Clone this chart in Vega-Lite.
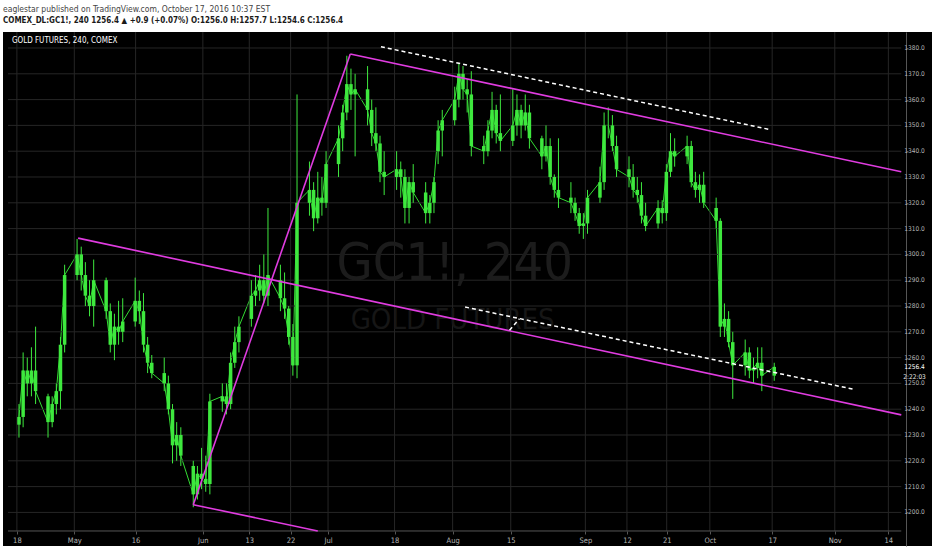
{
  "$schema": "https://vega.github.io/schema/vega-lite/v6.json",
  "width": 929,
  "height": 514,
  "autosize": {"type": "none"},
  "padding": {"left": 3, "top": 32, "right": 0, "bottom": 4},
  "background": "#ffffff",
  "title": {
    "text": "eaglestar published on TradingView.com, October 17, 2016 10:37 EST",
    "subtitle": "COMEX_DL:GC1!, 240  1256.4 ▲ +0.9 (+0.07%)  O:1256.0  H:1257.7  L:1254.6  C:1256.4",
    "anchor": "start",
    "frame": "group",
    "font": "DejaVu Sans Condensed",
    "fontSize": 8.5,
    "fontWeight": "normal",
    "color": "#444444",
    "subtitleFont": "DejaVu Sans Condensed",
    "subtitleFontSize": 8,
    "subtitleFontWeight": "bold",
    "subtitleColor": "#1a1a1a",
    "subtitlePadding": 3,
    "offset": 7
  },
  "config": {
    "view": {"fill": "#000000", "stroke": null},
    "axis": {"title": null, "labelOverlap": false}
  },
  "datasets": {
    "one": [{}],
    "ohlc": [
      {"t": "2016-04-18T12:00", "o": 1234, "h": 1242, "l": 1229, "c": 1237},
      {"t": "2016-04-19T12:00", "o": 1237, "h": 1262, "l": 1233, "c": 1255},
      {"t": "2016-04-20T12:00", "o": 1255, "h": 1260, "l": 1245, "c": 1250},
      {"t": "2016-04-21T12:00", "o": 1250, "h": 1264, "l": 1245, "c": 1255},
      {"t": "2016-04-22T12:00", "o": 1255, "h": 1272, "l": 1242, "c": 1247},
      {"t": "2016-04-25T12:00", "o": 1245, "h": 1246, "l": 1229, "c": 1235},
      {"t": "2016-04-26T12:00", "o": 1235, "h": 1245, "l": 1233, "c": 1242},
      {"t": "2016-04-27T12:00", "o": 1242, "h": 1250, "l": 1238, "c": 1247},
      {"t": "2016-04-28T12:00", "o": 1247, "h": 1268, "l": 1240, "c": 1265},
      {"t": "2016-04-29T12:00", "o": 1265, "h": 1296, "l": 1262, "c": 1292},
      {"t": "2016-05-02T12:00", "o": 1292, "h": 1306, "l": 1290, "c": 1300},
      {"t": "2016-05-03T12:00", "o": 1300, "h": 1303, "l": 1286, "c": 1292},
      {"t": "2016-05-04T12:00", "o": 1292, "h": 1297, "l": 1280, "c": 1284},
      {"t": "2016-05-05T12:00", "o": 1284, "h": 1290, "l": 1276, "c": 1280},
      {"t": "2016-05-06T12:00", "o": 1280, "h": 1298, "l": 1272, "c": 1290},
      {"t": "2016-05-09T12:00", "o": 1290, "h": 1291, "l": 1275, "c": 1278},
      {"t": "2016-05-10T12:00", "o": 1278, "h": 1281, "l": 1262, "c": 1265},
      {"t": "2016-05-11T12:00", "o": 1265, "h": 1277, "l": 1259, "c": 1272},
      {"t": "2016-05-12T12:00", "o": 1272, "h": 1282, "l": 1265, "c": 1270},
      {"t": "2016-05-13T12:00", "o": 1270, "h": 1283, "l": 1266, "c": 1274},
      {"t": "2016-05-16T12:00", "o": 1274, "h": 1291, "l": 1272, "c": 1282},
      {"t": "2016-05-17T12:00", "o": 1282, "h": 1286, "l": 1273, "c": 1278},
      {"t": "2016-05-18T12:00", "o": 1278, "h": 1285, "l": 1262, "c": 1265},
      {"t": "2016-05-19T12:00", "o": 1265, "h": 1268, "l": 1254, "c": 1258},
      {"t": "2016-05-20T12:00", "o": 1258, "h": 1261, "l": 1252, "c": 1254},
      {"t": "2016-05-23T12:00", "o": 1254, "h": 1260, "l": 1247, "c": 1250},
      {"t": "2016-05-24T12:00", "o": 1250, "h": 1253, "l": 1238, "c": 1240},
      {"t": "2016-05-25T12:00", "o": 1240, "h": 1242, "l": 1219, "c": 1226},
      {"t": "2016-05-26T12:00", "o": 1226, "h": 1235, "l": 1220, "c": 1230},
      {"t": "2016-05-27T12:00", "o": 1230, "h": 1233, "l": 1218, "c": 1222},
      {"t": "2016-05-30T12:00", "o": 1218, "h": 1220, "l": 1202, "c": 1207},
      {"t": "2016-05-31T12:00", "o": 1207, "h": 1218, "l": 1205, "c": 1215},
      {"t": "2016-06-01T12:00", "o": 1215, "h": 1225, "l": 1209, "c": 1213},
      {"t": "2016-06-02T12:00", "o": 1213, "h": 1222, "l": 1208, "c": 1211},
      {"t": "2016-06-03T12:00", "o": 1211, "h": 1246, "l": 1207, "c": 1243},
      {"t": "2016-06-06T12:00", "o": 1243, "h": 1250, "l": 1239, "c": 1245},
      {"t": "2016-06-07T12:00", "o": 1245, "h": 1250, "l": 1238, "c": 1242},
      {"t": "2016-06-08T12:00", "o": 1242, "h": 1262, "l": 1240, "c": 1258},
      {"t": "2016-06-09T12:00", "o": 1258, "h": 1272, "l": 1256, "c": 1266},
      {"t": "2016-06-10T12:00", "o": 1266, "h": 1276, "l": 1262, "c": 1272},
      {"t": "2016-06-13T12:00", "o": 1275, "h": 1290, "l": 1272, "c": 1284},
      {"t": "2016-06-14T12:00", "o": 1284, "h": 1292, "l": 1280, "c": 1286},
      {"t": "2016-06-15T12:00", "o": 1286, "h": 1296, "l": 1282, "c": 1290},
      {"t": "2016-06-16T12:00", "o": 1290, "h": 1300, "l": 1281, "c": 1284},
      {"t": "2016-06-17T12:00", "o": 1284, "h": 1318, "l": 1280, "c": 1292},
      {"t": "2016-06-20T12:00", "o": 1290, "h": 1296, "l": 1278, "c": 1283},
      {"t": "2016-06-21T12:00", "o": 1283, "h": 1293, "l": 1275, "c": 1279},
      {"t": "2016-06-22T12:00", "o": 1279, "h": 1280, "l": 1265, "c": 1268},
      {"t": "2016-06-23T12:00", "o": 1268, "h": 1273, "l": 1253, "c": 1257},
      {"t": "2016-06-24T12:00", "o": 1257, "h": 1362, "l": 1252, "c": 1320},
      {"t": "2016-06-27T12:00", "o": 1320, "h": 1336, "l": 1315, "c": 1325},
      {"t": "2016-06-28T12:00", "o": 1325, "h": 1328, "l": 1309, "c": 1314},
      {"t": "2016-06-29T12:00", "o": 1314, "h": 1332, "l": 1312, "c": 1322},
      {"t": "2016-06-30T12:00", "o": 1322, "h": 1330, "l": 1315, "c": 1320},
      {"t": "2016-07-01T12:00", "o": 1320, "h": 1340, "l": 1318, "c": 1335},
      {"t": "2016-07-04T12:00", "o": 1335, "h": 1350, "l": 1330, "c": 1345},
      {"t": "2016-07-05T12:00", "o": 1345, "h": 1358, "l": 1340, "c": 1355},
      {"t": "2016-07-06T12:00", "o": 1355, "h": 1377, "l": 1352, "c": 1366},
      {"t": "2016-07-07T12:00", "o": 1366, "h": 1372, "l": 1356, "c": 1362},
      {"t": "2016-07-08T12:00", "o": 1362, "h": 1370, "l": 1338, "c": 1364},
      {"t": "2016-07-11T12:00", "o": 1364, "h": 1373, "l": 1350, "c": 1356},
      {"t": "2016-07-12T12:00", "o": 1356, "h": 1360, "l": 1342, "c": 1347},
      {"t": "2016-07-13T12:00", "o": 1347, "h": 1357, "l": 1340, "c": 1343},
      {"t": "2016-07-14T12:00", "o": 1343, "h": 1346, "l": 1328, "c": 1332},
      {"t": "2016-07-15T12:00", "o": 1332, "h": 1340, "l": 1323, "c": 1330},
      {"t": "2016-07-18T12:00", "o": 1330, "h": 1340, "l": 1325, "c": 1333},
      {"t": "2016-07-19T12:00", "o": 1333, "h": 1336, "l": 1322, "c": 1330},
      {"t": "2016-07-20T12:00", "o": 1330, "h": 1333, "l": 1312, "c": 1318},
      {"t": "2016-07-21T12:00", "o": 1318, "h": 1330, "l": 1312, "c": 1328},
      {"t": "2016-07-22T12:00", "o": 1328, "h": 1335, "l": 1320, "c": 1324},
      {"t": "2016-07-25T12:00", "o": 1324, "h": 1328, "l": 1312, "c": 1316},
      {"t": "2016-07-26T12:00", "o": 1316, "h": 1323, "l": 1312, "c": 1320},
      {"t": "2016-07-27T12:00", "o": 1320, "h": 1330, "l": 1316, "c": 1328},
      {"t": "2016-07-28T12:00", "o": 1340, "h": 1352, "l": 1335, "c": 1348},
      {"t": "2016-07-29T12:00", "o": 1348, "h": 1356, "l": 1338, "c": 1352},
      {"t": "2016-08-01T12:00", "o": 1352, "h": 1365, "l": 1350, "c": 1360},
      {"t": "2016-08-02T12:00", "o": 1360, "h": 1374, "l": 1357, "c": 1370},
      {"t": "2016-08-03T12:00", "o": 1370, "h": 1373, "l": 1360, "c": 1364},
      {"t": "2016-08-04T12:00", "o": 1364, "h": 1368, "l": 1355, "c": 1362},
      {"t": "2016-08-05T12:00", "o": 1362, "h": 1371, "l": 1338, "c": 1342},
      {"t": "2016-08-08T12:00", "o": 1342, "h": 1346, "l": 1335, "c": 1340},
      {"t": "2016-08-09T12:00", "o": 1340, "h": 1352, "l": 1338, "c": 1348},
      {"t": "2016-08-10T12:00", "o": 1348, "h": 1363, "l": 1345, "c": 1356},
      {"t": "2016-08-11T12:00", "o": 1356, "h": 1358, "l": 1343, "c": 1347},
      {"t": "2016-08-12T12:00", "o": 1347, "h": 1362, "l": 1340, "c": 1344},
      {"t": "2016-08-15T12:00", "o": 1344, "h": 1364, "l": 1342, "c": 1350},
      {"t": "2016-08-16T12:00", "o": 1350, "h": 1362, "l": 1346, "c": 1356},
      {"t": "2016-08-17T12:00", "o": 1356, "h": 1358, "l": 1345, "c": 1350},
      {"t": "2016-08-18T12:00", "o": 1350, "h": 1362, "l": 1348, "c": 1355},
      {"t": "2016-08-19T12:00", "o": 1355, "h": 1358, "l": 1341, "c": 1345},
      {"t": "2016-08-22T12:00", "o": 1345, "h": 1346, "l": 1333, "c": 1338},
      {"t": "2016-08-23T12:00", "o": 1338, "h": 1350, "l": 1336, "c": 1342},
      {"t": "2016-08-24T12:00", "o": 1342, "h": 1345, "l": 1327, "c": 1330},
      {"t": "2016-08-25T12:00", "o": 1330, "h": 1331, "l": 1322, "c": 1325},
      {"t": "2016-08-26T12:00", "o": 1325, "h": 1345, "l": 1318, "c": 1322},
      {"t": "2016-08-29T12:00", "o": 1322, "h": 1328, "l": 1316, "c": 1320},
      {"t": "2016-08-30T12:00", "o": 1320, "h": 1322, "l": 1313, "c": 1316},
      {"t": "2016-08-31T12:00", "o": 1316, "h": 1318, "l": 1308, "c": 1311},
      {"t": "2016-09-01T12:00", "o": 1311, "h": 1316, "l": 1306, "c": 1312},
      {"t": "2016-09-02T12:00", "o": 1312, "h": 1325, "l": 1308, "c": 1322},
      {"t": "2016-09-05T12:00", "o": 1322, "h": 1334, "l": 1320, "c": 1328},
      {"t": "2016-09-06T12:00", "o": 1328, "h": 1355, "l": 1325, "c": 1350},
      {"t": "2016-09-07T12:00", "o": 1350, "h": 1357, "l": 1345, "c": 1350},
      {"t": "2016-09-08T12:00", "o": 1350, "h": 1354, "l": 1340, "c": 1342},
      {"t": "2016-09-09T12:00", "o": 1342, "h": 1346, "l": 1330, "c": 1333},
      {"t": "2016-09-12T12:00", "o": 1333, "h": 1338, "l": 1326, "c": 1330},
      {"t": "2016-09-13T12:00", "o": 1330, "h": 1335, "l": 1322, "c": 1325},
      {"t": "2016-09-14T12:00", "o": 1325, "h": 1330, "l": 1320, "c": 1323},
      {"t": "2016-09-15T12:00", "o": 1323, "h": 1328, "l": 1312, "c": 1315},
      {"t": "2016-09-16T12:00", "o": 1315, "h": 1320, "l": 1309, "c": 1311},
      {"t": "2016-09-19T12:00", "o": 1312, "h": 1321, "l": 1310, "c": 1318},
      {"t": "2016-09-20T12:00", "o": 1318, "h": 1321, "l": 1312, "c": 1316},
      {"t": "2016-09-21T12:00", "o": 1316, "h": 1335, "l": 1313, "c": 1332},
      {"t": "2016-09-22T12:00", "o": 1332, "h": 1347, "l": 1330, "c": 1340},
      {"t": "2016-09-23T12:00", "o": 1340, "h": 1345, "l": 1334, "c": 1338},
      {"t": "2016-09-26T12:00", "o": 1338, "h": 1346, "l": 1335, "c": 1342},
      {"t": "2016-09-27T12:00", "o": 1342, "h": 1344, "l": 1326, "c": 1328},
      {"t": "2016-09-28T12:00", "o": 1328, "h": 1332, "l": 1322, "c": 1325},
      {"t": "2016-09-29T12:00", "o": 1325, "h": 1331, "l": 1320, "c": 1327},
      {"t": "2016-09-30T12:00", "o": 1327, "h": 1332, "l": 1318, "c": 1320},
      {"t": "2016-10-03T12:00", "o": 1318, "h": 1322, "l": 1310, "c": 1313},
      {"t": "2016-10-04T12:00", "o": 1313, "h": 1314, "l": 1268, "c": 1272},
      {"t": "2016-10-05T12:00", "o": 1272, "h": 1281, "l": 1268, "c": 1275},
      {"t": "2016-10-06T12:00", "o": 1275, "h": 1278, "l": 1264, "c": 1266},
      {"t": "2016-10-07T12:00", "o": 1266, "h": 1270, "l": 1244, "c": 1257},
      {"t": "2016-10-10T12:00", "o": 1257, "h": 1267, "l": 1253, "c": 1262},
      {"t": "2016-10-11T12:00", "o": 1262, "h": 1264, "l": 1252, "c": 1255},
      {"t": "2016-10-12T12:00", "o": 1255, "h": 1260, "l": 1250, "c": 1256},
      {"t": "2016-10-13T12:00", "o": 1256, "h": 1264, "l": 1252, "c": 1258},
      {"t": "2016-10-14T12:00", "o": 1258, "h": 1264, "l": 1247, "c": 1253},
      {"t": "2016-10-17T12:00", "o": 1253, "h": 1258, "l": 1251, "c": 1256.4}
    ],
    "trend": [
      {"id": "a", "t": "2016-05-02T18:00", "p": 1306.3},
      {"id": "a", "t": "2016-11-17T02:40", "p": 1237.8},
      {"id": "b", "t": "2016-05-30T12:00", "p": 1203},
      {"id": "b", "t": "2016-06-29T12:00", "p": 1192.8},
      {"id": "c", "t": "2016-05-30T12:00", "p": 1203},
      {"id": "c", "t": "2016-07-07T08:00", "p": 1377.7},
      {"id": "d", "t": "2016-07-07T08:00", "p": 1377.7},
      {"id": "d", "t": "2016-11-17T02:40", "p": 1332}
    ],
    "dashed": [
      {"id": "e", "t": "2016-07-14T17:20", "p": 1380.5},
      {"id": "e", "t": "2016-10-16T02:30", "p": 1348.5},
      {"id": "f", "t": "2016-08-04T00:00", "p": 1279.6},
      {"id": "f", "t": "2016-11-05T09:40", "p": 1247.8},
      {"id": "g", "t": "2016-08-14T17:00", "p": 1270.6},
      {"id": "g", "t": "2016-08-17T02:30", "p": 1275.1}
    ],
    "ygrid": [
      {"p": 1200}, {"p": 1210}, {"p": 1220}, {"p": 1230}, {"p": 1240}, {"p": 1250}, {"p": 1260},
      {"p": 1270}, {"p": 1280}, {"p": 1290}, {"p": 1300}, {"p": 1310}, {"p": 1320}, {"p": 1330},
      {"p": 1340}, {"p": 1350}, {"p": 1360}, {"p": 1370}, {"p": 1380}
    ],
    "xgrid": [
      {"t": "2016-04-18T00:00"}, {"t": "2016-05-01T20:00"}, {"t": "2016-05-16T14:30"},
      {"t": "2016-06-01T19:30"}, {"t": "2016-06-13T00:00"}, {"t": "2016-06-22T23:00"},
      {"t": "2016-07-01T23:30"}, {"t": "2016-07-18T00:00"}, {"t": "2016-08-01T00:00"},
      {"t": "2016-08-15T00:00"}, {"t": "2016-09-01T23:30"}, {"t": "2016-09-12T00:00"},
      {"t": "2016-09-21T14:00"}, {"t": "2016-10-01T23:30"}, {"t": "2016-10-17T00:00"},
      {"t": "2016-11-01T02:00"}, {"t": "2016-11-14T00:00"}
    ]
  },
  "layer": [
    {
      "data": {"name": "ohlc"},
      "mark": {"type": "line", "color": "#33dd33", "strokeWidth": 1},
      "encoding": {
        "x": {
          "field": "t", "type": "temporal",
          "scale": {"domain": [{"year": 2016, "month": 4, "date": 15, "hours": 20, "minutes": 30}, {"year": 2016, "month": 11, "date": 23, "hours": 7, "minutes": 25}], "nice": false},
          "axis": {
            "orient": "bottom", "offset": -15, "grid": false, "domain": false,
            "values": [
              {"year": 2016, "month": 4, "date": 18},
              {"year": 2016, "month": 5, "date": 1, "hours": 20},
              {"year": 2016, "month": 5, "date": 16, "hours": 14, "minutes": 30},
              {"year": 2016, "month": 6, "date": 1, "hours": 19, "minutes": 30},
              {"year": 2016, "month": 6, "date": 13},
              {"year": 2016, "month": 6, "date": 22, "hours": 23},
              {"year": 2016, "month": 7, "date": 1, "hours": 23, "minutes": 30},
              {"year": 2016, "month": 7, "date": 18},
              {"year": 2016, "month": 8, "date": 1},
              {"year": 2016, "month": 8, "date": 15},
              {"year": 2016, "month": 9, "date": 1, "hours": 23, "minutes": 30},
              {"year": 2016, "month": 9, "date": 12},
              {"year": 2016, "month": 9, "date": 21, "hours": 14},
              {"year": 2016, "month": 10, "date": 1, "hours": 23, "minutes": 30},
              {"year": 2016, "month": 10, "date": 17},
              {"year": 2016, "month": 11, "date": 1, "hours": 2},
              {"year": 2016, "month": 11, "date": 14}
            ],
            "labelExpr": "date(datum.value) == 1 ? timeFormat(datum.value, '%b') : timeFormat(datum.value, '%-d')",
            "tickColor": "#555555", "tickSize": 3,
            "labelColor": "#b4b4b4", "labelFont": "DejaVu Sans Condensed", "labelFontSize": 7.5, "labelPadding": 2,
            "labelFlush": false, "labelOverlap": false
          }
        },
        "y": {
          "field": "c", "type": "quantitative",
          "scale": {"domain": [1186.98, 1386.2], "nice": false, "zero": false},
          "axis": {
            "orient": "right", "offset": -26, "grid": false, "labels": false,
            "values": [1200, 1210, 1220, 1230, 1240, 1250, 1260, 1270, 1280, 1290, 1300, 1310, 1320, 1330, 1340, 1350, 1360, 1370, 1380],
            "domainColor": "#555555", "tickColor": "#555555", "tickSize": 2
          }
        }
      }
    },
    {
      "data": {"name": "ygrid"},
      "mark": {"type": "rule", "color": "#262626", "strokeWidth": 1},
      "encoding": {
        "y": {"field": "p", "type": "quantitative"},
        "x": {"datum": {"year": 2016, "month": 4, "date": 15, "hours": 20, "minutes": 30}, "type": "temporal"},
        "x2": {"datum": {"year": 2016, "month": 11, "date": 17, "hours": 2, "minutes": 40}}
      }
    },
    {
      "data": {"name": "ygrid"},
      "mark": {"type": "text", "font": "DejaVu Sans Condensed", "fontSize": 6.5, "color": "#b4b4b4", "align": "left", "baseline": "middle", "dx": 3},
      "encoding": {
        "y": {"field": "p", "type": "quantitative"},
        "x": {"datum": {"year": 2016, "month": 11, "date": 17, "hours": 2, "minutes": 40}, "type": "temporal"},
        "text": {"field": "p", "type": "quantitative", "format": ".1f"}
      }
    },
    {
      "data": {"name": "xgrid"},
      "mark": {"type": "rule", "color": "#262626", "strokeWidth": 1},
      "encoding": {
        "x": {"field": "t", "type": "temporal"},
        "y": {"datum": 1192.8, "type": "quantitative"},
        "y2": {"datum": 1386.2}
      }
    },
    {
      "data": {"name": "one"},
      "mark": {"type": "text", "font": "DejaVu Sans Condensed", "fontSize": 52, "color": "#1c1c1c", "align": "center", "baseline": "alphabetic"},
      "encoding": {
        "x": {"datum": {"year": 2016, "month": 8, "date": 1, "hours": 12}, "type": "temporal"},
        "y": {"datum": 1290.1, "type": "quantitative"},
        "text": {"value": "GC1!, 240"}
      }
    },
    {
      "data": {"name": "one"},
      "mark": {"type": "text", "font": "DejaVu Sans Condensed", "fontSize": 29, "color": "#161616", "align": "center", "baseline": "alphabetic"},
      "encoding": {
        "x": {"datum": {"year": 2016, "month": 8, "date": 1, "hours": 0}, "type": "temporal"},
        "y": {"datum": 1271.1, "type": "quantitative"},
        "text": {"value": "GOLD FUTURES"}
      }
    },
    {
      "data": {"name": "ohlc"},
      "mark": {"type": "rule", "color": "#3ee83e", "strokeWidth": 1},
      "encoding": {
        "x": {"field": "t", "type": "temporal"},
        "y": {"field": "l", "type": "quantitative"},
        "y2": {"field": "h"}
      }
    },
    {
      "data": {"name": "ohlc"},
      "mark": {"type": "bar", "width": 3.5, "color": "#3ee83e"},
      "encoding": {
        "x": {"field": "t", "type": "temporal"},
        "y": {"field": "o", "type": "quantitative"},
        "y2": {"field": "c"}
      }
    },
    {
      "data": {"name": "one"},
      "mark": {"type": "rule", "color": "#555555", "strokeWidth": 1},
      "encoding": {
        "y": {"datum": 1192.8, "type": "quantitative"},
        "x": {"datum": {"year": 2016, "month": 4, "date": 15, "hours": 20, "minutes": 30}, "type": "temporal"},
        "x2": {"datum": {"year": 2016, "month": 11, "date": 17, "hours": 2, "minutes": 40}}
      }
    },
    {
      "data": {"name": "trend"},
      "mark": {"type": "line", "color": "#e03ce0", "strokeWidth": 1.6},
      "encoding": {
        "x": {"field": "t", "type": "temporal"},
        "y": {"field": "p", "type": "quantitative"},
        "detail": {"field": "id"}
      }
    },
    {
      "data": {"name": "dashed"},
      "mark": {"type": "line", "color": "#ffffff", "strokeWidth": 1.5, "strokeDash": [4, 3]},
      "encoding": {
        "x": {"field": "t", "type": "temporal"},
        "y": {"field": "p", "type": "quantitative"},
        "detail": {"field": "id"}
      }
    },
    {
      "data": {"name": "one"},
      "mark": {"type": "text", "font": "DejaVu Sans Condensed", "fontSize": 8, "color": "#ffffff", "align": "left", "baseline": "middle"},
      "encoding": {
        "x": {"datum": {"year": 2016, "month": 4, "date": 16, "hours": 19}, "type": "temporal"},
        "y": {"datum": 1382.6, "type": "quantitative"},
        "text": {"value": "GOLD FUTURES, 240, COMEX"}
      }
    },
    {
      "data": {"name": "one"},
      "mark": {"type": "text", "font": "DejaVu Sans Condensed", "fontSize": 6.5, "color": "#ffffff", "align": "left", "baseline": "middle", "dx": 3},
      "encoding": {
        "x": {"datum": {"year": 2016, "month": 11, "date": 17, "hours": 2, "minutes": 40}, "type": "temporal"},
        "y": {"datum": 1256.4, "type": "quantitative"},
        "text": {"value": "1256.4"}
      }
    },
    {
      "data": {"name": "one"},
      "mark": {"type": "text", "font": "DejaVu Sans Condensed", "fontSize": 6.5, "color": "#e6e6e6", "align": "left", "baseline": "middle", "dx": 2},
      "encoding": {
        "x": {"datum": {"year": 2016, "month": 11, "date": 17, "hours": 2, "minutes": 40}, "type": "temporal"},
        "y": {"datum": 1252.4, "type": "quantitative"},
        "text": {"value": "2:22:03"}
      }
    }
  ]
}
